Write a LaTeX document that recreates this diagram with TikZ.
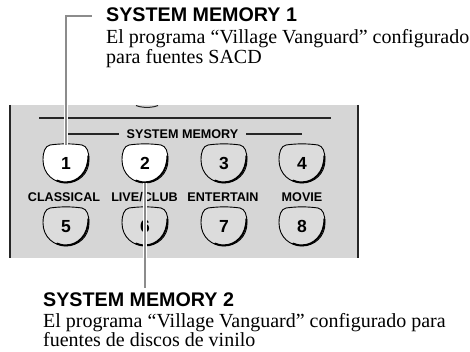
\documentclass[tikz,border=0pt]{standalone}
\usepackage{fontspec}
\setmainfont{Liberation Serif}
\setsansfont{Liberation Sans}
\usetikzlibrary{calc}
\definecolor{Panel}{HTML}{D6D6D6}
\definecolor{KeyGrey}{HTML}{DCDCDC}
\definecolor{Lead}{HTML}{8C8C8C}

\tikzset{
  keynum/.style={font=\sffamily\bfseries\fontsize{17.5}{17}\selectfont,minimum width=46pt,minimum height=38pt,inner sep=0pt},
  keylabel/.style={font=\sffamily\bfseries\fontsize{12.6}{13}\selectfont,inner sep=0pt},
  memtitle/.style={anchor=base west,font=\sffamily\bfseries\fontsize{19.7}{20}\selectfont,inner sep=0pt},
  memtext/.style={anchor=base west,font=\fontsize{20}{20}\selectfont,inner sep=0pt},
  leader/.style={Lead,line width=1.6pt,preaction={draw=white,line width=4pt}}
}
% one key of the remote: x, y, number, fill
\newcommand\remotekey[4]{%
  \begin{scope}[shift={(#1,#2)}]
    \filldraw[fill=#4,draw=black,line width=0.9pt] (-16,-19) .. controls (-5,-20.5) and (5,-20.5) .. (16,-19)
      .. controls (21,-18) and (23,-12) .. (23,-4) .. controls (23,10) and (12,19) .. (0,19)
      .. controls (-12,19) and (-23,10) .. (-23,-4) .. controls (-23,-12) and (-21,-18) .. (-16,-19) -- cycle;
    \draw[black,line width=1.8pt,line cap=round] (22.3,-8) .. controls (22.6,8) and (12,18.3) .. (0,18.3) .. controls (-4,18.3) and (-7,17.5) .. (-9,16.5);
  \end{scope}
  \node[keynum] (key#3) at (#1,#2) {\raisebox{2pt}{#3}};}

\begin{document}
\begin{tikzpicture}[x=1pt,y=-1pt]
\useasboundingbox (0,0) rectangle (470,352);
% panel
\fill[Panel] (10,105) rectangle (358,258);
\draw[black!85,line width=2pt] (10,105) -- (10,258);
\draw[black!85,line width=2pt] (358,105) -- (358,258);
\draw[black!85,line width=1pt] (136,105.5) .. controls (142,108) and (152,108) .. (158,105.5);
\draw[black!85,line width=1.2pt] (39,118) -- (331,118);
\node[keylabel] (sysmem) at (182.5,134) {SYSTEM MEMORY};
\draw[black!85,line width=1.2pt] (67,134) -- ([xshift=-8pt]sysmem.west);
\draw[black!85,line width=1.2pt] ([xshift=8pt]sysmem.east) -- (302,134);
% keys
\foreach \x/\n/\f in {66/1/white,145/2/white,224/3/KeyGrey,302/4/KeyGrey} {\remotekey{\x}{164}{\n}{\f}}
\foreach \x/\n in {66/5,145/6,224/7,302/8} {\remotekey{\x}{227}{\n}{KeyGrey}}
\node[keylabel] (lblclassical) at (64,197) {CLASSICAL};
\node[keylabel] (lbllive) at (144.5,197) {LIVE/CLUB};
\node[keylabel] (lblentertain) at (223,197) {ENTERTAIN};
\node[keylabel] (lblmovie) at (302,197) {MOVIE};
% captions
\node[memtitle] (mem1title) at (106,22) {SYSTEM MEMORY 1};
\node[memtext] (mem1line1) at (106,44) {El programa “Village Vanguard” configurado};
\node[memtext] (mem1line2) at (106,64) {para fuentes SACD};
\node[memtitle] (mem2title) at (43,306) {SYSTEM MEMORY 2};
\node[memtext] (mem2line1) at (43,327) {El programa “Village Vanguard” configurado para};
\node[memtext] (mem2line2) at (43,346) {fuentes de discos de vinilo};
% leaders
\coordinate (mem1end) at ([xshift=-14pt,yshift=6pt]mem1title.base west);
\draw[leader] (key1.north) -- (key1.north |- mem1end) -- (mem1end);
\draw[leader] (key2.south) -- ([yshift=4pt]key2.south |- mem2title.north);
\end{tikzpicture}
\end{document}
